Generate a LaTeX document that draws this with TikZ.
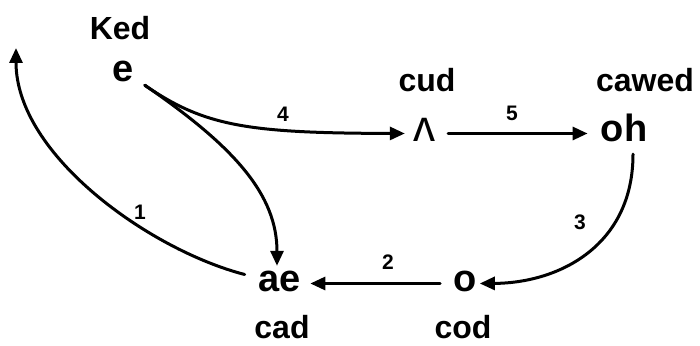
\documentclass[tikz,border=0pt]{standalone}
\usepackage{fontspec}
\setmainfont{Liberation Sans}
\usetikzlibrary{positioning, arrows.meta}

\begin{document}
\begin{tikzpicture}[
        x=1pt, y=1pt,
        vowel/.style={font=\fontsize{38}{40}\selectfont\bfseries, inner sep=0pt, anchor=base, text height=17pt, text depth=0pt},
        word/.style={font=\fontsize{32}{36}\selectfont\bfseries, inner sep=0pt},
        num/.style={font=\fontsize{21}{23}\selectfont\bfseries, inner sep=0pt},
        move/.style={-{Triangle[length=15pt,width=13pt]}, line width=3pt, line cap=round}
    ]
        \useasboundingbox (0,0) rectangle (700,345);

        % vowels
        \node[vowel] (E) at (123,263) {e};
        \node[vowel] (AE) at (280,53) {ae};
        \node[vowel, font=\fontsize{44}{46}\selectfont] (UH) at (424,203) {ʌ};
        \node[vowel] (OH) at (624,203) {oh};
        \node[vowel] (O) at (465,53) {o};

        % key words
        \node[word, above=42pt of E.base, anchor=base, xshift=-3pt] (KED) {Ked};
        \node[word, above=50pt of UH.base, anchor=base, xshift=3pt] (CUD) {cud};
        \node[word, above=50pt of OH.base, anchor=base, xshift=21pt] (CAWED) {cawed};
        \node[word, below=46pt of AE.base, anchor=base, xshift=2pt] (CAD) {cad};
        \node[word, below=46pt of O.base, anchor=base, xshift=-2pt] (COD) {cod};

        % step numbers
        \node[num] (N1) at (140,133) {1};
        \node[num] (N2) at (388,83) {2};
        \node[num] (N3) at (580,123) {3};
        \node[num] (N4) at (283,231) {4};
        \node[num] (N5) at (512,232) {5};

        \coordinate (TOP) at (16,297);

        \draw[move] ([shift={(-14pt,9pt)}]AE.west) .. controls (150,95) and (16,190) .. (TOP);
        \draw[move, shorten <=13pt, shorten >=9pt] (O.west) -- (AE.east);
        \draw[move] ([shift={(9pt,-12pt)}]OH.south) .. controls (633,100) and (560,62) .. ([xshift=3pt]O.east);
        \draw[move] ([shift={(11pt,-3pt)}]E.south east) .. controls (205,218) and (250,212) .. ([xshift=-8pt]UH.west);
        \draw[move, shorten <=13pt, shorten >=13pt] (UH.east) -- (OH.west);
        \draw[move] ([shift={(11pt,-3pt)}]E.south east) .. controls (235,198) and (277,150) .. ([shift={(-3pt,9pt)}]AE.north);
    \end{tikzpicture}
\end{document}
